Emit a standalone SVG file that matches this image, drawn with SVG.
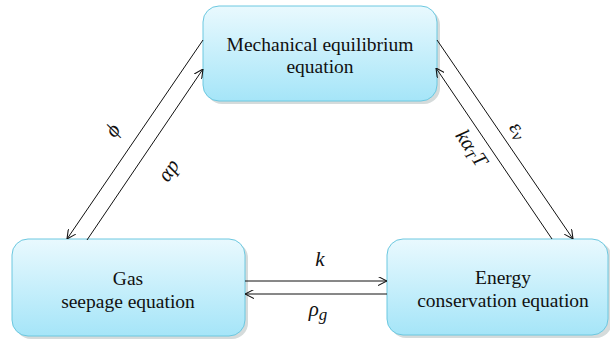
<svg xmlns="http://www.w3.org/2000/svg" width="610" height="339" viewBox="0 0 610 339">
<style>
.box{fill:url(#g);stroke:#6cc8e0;stroke-width:1}
.sh{fill:#899;opacity:0.35}
.c line{stroke:#111;stroke-width:1}
</style>
<defs>
<linearGradient id="g" x1="0" y1="0" x2="0" y2="1">
<stop offset="0" stop-color="#e9f9fe"/>
<stop offset="1" stop-color="#a5e5f8"/>
</linearGradient>
<marker id="a" viewBox="0 0 10 10" refX="10" refY="5" markerWidth="9" markerHeight="9" markerUnits="userSpaceOnUse" orient="auto">
<path d="M0,0 L10,5 L0,10" fill="none" stroke="#111" stroke-width="1.2"/>
</marker>
</defs>
<g id="mech">
<rect class="sh" x="206" y="9" width="234" height="95" rx="16"/>
<rect class="box" x="203" y="6" width="234" height="95" rx="16"/>
<text x="320" y="51" font-family="Liberation Serif" font-size="19.5" fill="#111" text-anchor="middle">Mechanical equilibrium</text>
<text x="320" y="73" font-family="Liberation Serif" font-size="19.5" fill="#111" text-anchor="middle">equation</text>
</g>
<g id="gas">
<rect class="sh" x="15" y="242" width="233" height="97" rx="16"/>
<rect class="box" x="12" y="239" width="233" height="97" rx="16"/>
<text x="128" y="285" font-family="Liberation Serif" font-size="19.5" fill="#111" text-anchor="middle">Gas</text>
<text x="128" y="308" font-family="Liberation Serif" font-size="19.5" fill="#111" text-anchor="middle">seepage equation</text>
</g>
<g id="energy">
<rect class="sh" x="390" y="242" width="222" height="96" rx="16"/>
<rect class="box" x="387" y="239" width="221" height="96" rx="16"/>
<text x="503" y="284" font-family="Liberation Serif" font-size="19.5" fill="#111" text-anchor="middle">Energy</text>
<text x="503" y="307" font-family="Liberation Serif" font-size="19.5" fill="#111" text-anchor="middle">conservation equation</text>
</g>
<g class="c" id="connectors">
<line x1="203" y1="40" x2="67" y2="239" marker-end="url(#a)"/>
<line x1="87" y1="240" x2="203" y2="69" marker-end="url(#a)"/>
<line x1="437" y1="40" x2="573" y2="239" marker-end="url(#a)"/>
<line x1="552" y1="239" x2="436" y2="68" marker-end="url(#a)"/>
<line x1="245" y1="281" x2="387" y2="281" marker-end="url(#a)"/>
<line x1="387" y1="294" x2="245" y2="294" marker-end="url(#a)"/>
</g>
<g id="labels">
<text transform="translate(118,134) rotate(-55.6)" font-family="Liberation Serif" font-style="italic" font-size="21" fill="#111" text-anchor="middle">ϕ</text>
<text transform="translate(174,174) rotate(-55.6)" font-family="Liberation Serif" font-style="italic" font-size="21" fill="#111" text-anchor="middle">αp</text>
<text transform="translate(513,134) rotate(55.6)" font-family="Liberation Serif" font-style="italic" font-size="21" fill="#111" text-anchor="middle">ε<tspan font-size="17" dy="3">v</tspan></text>
<text transform="translate(466,152) rotate(55.6)" font-family="Liberation Serif" font-style="italic" font-size="21" fill="#111" text-anchor="middle">kα<tspan font-size="14" dy="3">T</tspan><tspan dy="-3">T</tspan></text>
<text x="320" y="266" font-family="Liberation Serif" font-style="italic" font-size="21" fill="#111" text-anchor="middle">k</text>
<text x="318" y="316" font-family="Liberation Serif" font-style="italic" font-size="21" fill="#111" text-anchor="middle">ρ<tspan font-size="17" dy="4">g</tspan></text>
</g>
</svg>
